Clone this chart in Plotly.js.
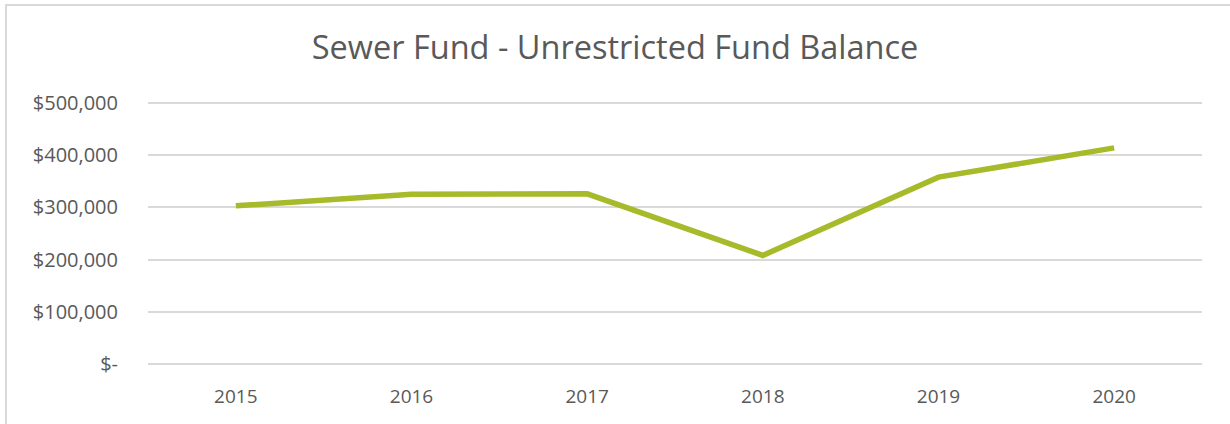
<!DOCTYPE html>
<html>
<head>
<meta charset="utf-8">
<script src="https://cdn.plot.ly/plotly-3.0.1.min.js"></script>
<style>
  html, body { margin: 0; padding: 0; background: #fff; }
  #frame {
    position: absolute; left: 5px; top: 4px; width: 1300px; height: 500px;
    border-left: 2px solid #d9d9d9; border-top: 2px solid #d9d9d9;
  }
  #chart { position: absolute; left: 0; top: 0; width: 1230px; height: 424px; }
</style>
</head>
<body>
<div id="frame"></div>
<div id="chart"></div>
<script>
const years = ['2015', '2016', '2017', '2018', '2019', '2020'];
const balance = [303000, 325000, 326000, 208000, 358000, 414000];
const tickValues = [0, 100000, 200000, 300000, 400000, 500000];
const tickLabels = ['$-', '$100,000', '$200,000', '$300,000', '$400,000', '$500,000'];

// pad the value range by a few pixels so the edge gridlines are drawn
const pxPerUnit = 261 / 500000;
const padPx = 4;
const pad = padPx / pxPerUnit;

const trace = {
    x: years,
    y: balance,
    type: 'scatter',
    mode: 'lines',
    line: { color: '#a6ba2a', width: 5.5 },
    hoverinfo: 'x+y'
};

const layout = {
    width: 1230,
    height: 424,
    paper_bgcolor: 'rgba(0,0,0,0)',
    plot_bgcolor: 'rgba(0,0,0,0)',
    margin: { l: 148, r: 28, t: 103 - padPx, b: 60 - padPx },
    showlegend: false,
    font: { family: 'Open Sans', color: '#595959' },
    title: {
        text: 'Sewer Fund - Unrestricted Fund Balance',
        font: { family: 'Open Sans', size: 32.5, weight: 400, color: '#595959' },
        x: 0.5,
        xanchor: 'center',
        y: 1 - 48 / 424,
        yanchor: 'middle'
    },
    xaxis: {
        type: 'category',
        range: [-0.5, 5.5],
        showgrid: false,
        zeroline: false,
        showline: false,
        ticks: '',
        tickfont: { size: 19, color: '#595959' },
        ticklabelstandoff: 15
    },
    yaxis: {
        range: [-pad, 500000 + pad],
        tickvals: tickValues,
        ticktext: tickLabels,
        showgrid: true,
        gridcolor: '#d9d9d9',
        gridwidth: 2,
        zeroline: false,
        showline: false,
        ticks: '',
        tickfont: { size: 20, color: '#595959' },
        ticklabelstandoff: 29
    }
};

Plotly.newPlot('chart', [trace], layout, { displayModeBar: false, staticPlot: true });
</script>
</body>
</html>
